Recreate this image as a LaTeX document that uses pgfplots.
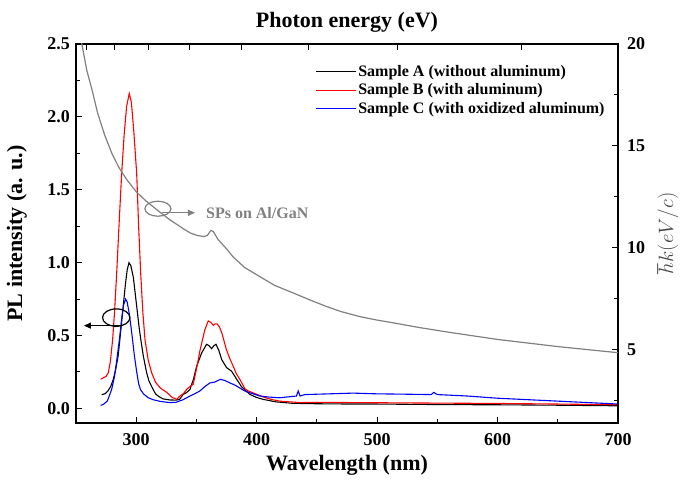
\documentclass[border=0pt]{standalone}
\usepackage{pgfplots}
\pgfplotsset{compat=1.18}
\usepackage{pgfplotstable}
\usepackage{fontspec}
\setmainfont{Liberation Serif}
\usetikzlibrary{arrows.meta}
\definecolor{spgray}{RGB}{128,128,128}
\definecolor{labgray}{RGB}{70,70,70}

\pgfplotstableread{
x y
271.3 0.095
274 0.10
276.5 0.12
278.8 0.15
281 0.20
283 0.27
285 0.36
287 0.52
289.2 0.70
291 0.85
292.5 0.95
294 1.00
295.5 0.98
297.6 0.90
299 0.80
300.4 0.70
302.5 0.55
304.2 0.45
305.9 0.36
308.5 0.25
310.5 0.19
312.8 0.15
316 0.10
319 0.08
322.5 0.065
328 0.058
333 0.057
336 0.062
339 0.096
342 0.11
344.6 0.13
347.5 0.20
350.2 0.29
354.3 0.38
358.4 0.44
360.5 0.43
362.6 0.41
364.5 0.43
366.2 0.44
368.5 0.40
371 0.335
375 0.28
379.2 0.255
383.4 0.20
387.5 0.148
394.4 0.096
400 0.075
405.4 0.062
416 0.045
430 0.035
450 0.032
480 0.03
500 0.03
530 0.028
560 0.026
600 0.025
650 0.022
700 0.018
}\sampleA

\pgfplotstableread{
x y
270.5 0.20
272.7 0.21
275 0.22
276.8 0.245
278.5 0.32
280.4 0.47
282 0.66
283.8 0.93
285.5 1.22
287.9 1.61
290 1.88
292 2.07
294.2 2.16
296 2.10
298 1.90
300.4 1.61
302 1.25
303.7 0.93
305.5 0.66
307.3 0.47
310 0.33
312.8 0.245
316 0.18
320 0.14
325.3 0.11
330 0.075
333.6 0.062
336.3 0.085
339 0.10
341.9 0.13
344.5 0.15
347.3 0.165
350 0.27
353 0.40
355 0.47
357 0.54
359.8 0.60
362 0.59
364 0.57
365.5 0.58
367.2 0.58
369 0.56
371 0.52
373 0.46
375 0.40
377.8 0.34
380.5 0.29
383 0.24
386 0.20
390.2 0.135
393 0.12
397 0.107
405 0.08
412 0.062
419 0.05
436 0.04
450 0.042
480 0.04
520 0.038
560 0.036
600 0.034
650 0.03
700 0.025
}\sampleB

\pgfplotstableread{
x y
270.5 0.02
273 0.03
276 0.05
279.6 0.13
282 0.22
284 0.34
286 0.47
288 0.62
289.5 0.71
291.2 0.75
292.5 0.73
294 0.66
295.5 0.57
297 0.47
298.5 0.36
300.4 0.25
302 0.17
303.5 0.13
306 0.10
310 0.073
314 0.06
320 0.048
328 0.04
333 0.042
339 0.06
344.6 0.085
348.5 0.10
352.9 0.12
357 0.15
361.2 0.175
365 0.18
370 0.20
374 0.19
377.8 0.175
382 0.16
386 0.14
390 0.12
394.4 0.107
402.7 0.085
410 0.078
419 0.073
427 0.08
433 0.085
434.5 0.12
436 0.085
440 0.095
460 0.10
480 0.105
500 0.10
520 0.098
545 0.095
547 0.11
550 0.095
575 0.085
600 0.07
625 0.06
650 0.05
675 0.04
700 0.03
}\sampleC

\pgfplotstableread{
x y
250 21.6
255 19.95
259 18.7
263.3 17.75
268 16.6
274 15.5
280 14.6
286 13.9
292.3 13.33
300 12.75
308 12.3
317.2 11.86
328 11.37
340 10.9
345 10.72
351 10.6
356 10.55
359 10.6
362 10.85
364 10.8
368 10.4
375 9.95
380.3 9.56
390 9.03
402.7 8.58
415 8.15
430 7.79
445 7.42
458.3 7.11
470 6.87
485.7 6.62
500 6.45
513 6.32
535.5 6.08
560 5.85
600 5.5
650 5.15
700 4.85
}\spdata

\begin{document}
\begin{tikzpicture}
\useasboundingbox (-76pt,-63pt) rectangle (609pt,423pt);
\begin{axis}[
  scale only axis, width=542pt, height=379pt,
  xmin=250, xmax=700, ymin=-0.1, ymax=2.5,
  xtick={300,400,...,700}, minor xtick={350,450,550,650},
  ytick={0,0.5,...,2.5}, minor ytick={0.25,0.75,...,2.25},
  xtick pos=bottom, ytick pos=left, tick align=inside,
  major tick length=6pt, minor tick length=4pt,
  every tick/.style={black, line width=1pt},
  axis line style={line width=1.2pt},
  /pgf/number format/assume math mode=true,
  ticklabel style={font=\bfseries\fontsize{18}{18}\selectfont},
  yticklabel style={/pgf/number format/.cd, fixed, fixed zerofill, precision=1, /tikz/.cd, anchor=east, inner sep=0pt, xshift=-6pt},
  xticklabel style={anchor=north, inner sep=0pt, yshift=-10pt},
  xlabel={Wavelength (nm)}, ylabel={PL intensity (a. u.)},
  label style={font=\bfseries\fontsize{22}{22}\selectfont},
  xlabel style={at={(axis description cs:0.5,-0.0844)}, anchor=north, inner sep=0pt},
  ylabel style={at={(axis description cs:-0.0904,0.5)}, anchor=south, inner sep=0pt},
  legend style={at={(axis description cs:0.441,0.947)}, anchor=north west, draw=none, fill=none,
    font=\bfseries\fontsize{16}{16}\selectfont, inner sep=0pt, row sep=4pt, column sep=1pt,
    nodes={inner sep=1pt}},
  legend cell align=left,
  legend image code/.code={\draw[#1] (0pt,0pt) -- (40pt,0pt);},
]
\addplot[black, line width=1.1pt] table {\sampleA};
\addlegendentry{Sample A (without aluminum)}
\addplot[red, line width=1.1pt] table {\sampleB};
\addlegendentry{Sample B (with aluminum)}
\addplot[blue, line width=1.1pt] table {\sampleC};
\addlegendentry{Sample C (with oxidized aluminum)}
\draw[spgray, line width=1.2pt] (axis cs:318,1.37) ellipse [x radius=13pt, y radius=7.5pt];
\draw[spgray, line width=1.2pt, -{Triangle[length=7pt,width=6pt]}] (axis cs:321.4,1.342) -- (axis cs:348.8,1.342);
\node[spgray, anchor=west, inner sep=0pt, font=\bfseries\fontsize{16}{16}\selectfont] at (axis cs:357.9,1.342) {SPs on Al/GaN};
\draw[black, line width=1.2pt] (axis cs:283.4,0.623) ellipse [x radius=13.7pt, y radius=8.7pt];
\draw[black, line width=1.2pt, -{Triangle[length=7pt,width=6pt]}] (axis cs:289.3,0.568) -- (axis cs:256.6,0.568);
\end{axis}
\begin{axis}[
  scale only axis, width=542pt, height=379pt,
  xmin=250, xmax=700, ymin=1.4, ymax=20,
  xtick pos=top, ytick pos=right, yticklabel pos=right, tick align=inside,
  xtick={258.33,281.82,310,344.44,387.5,442.86,516.67,620},
  xticklabels={,,,,,,,,},
  ytick={5,10,15,20}, minor ytick={2.5,7.5,12.5,17.5},
  major tick length=6pt, minor tick length=4pt,
  every tick/.style={black, line width=1pt},
  axis line style={line width=1.2pt},
  /pgf/number format/assume math mode=true,
  ticklabel style={font=\bfseries\fontsize{18}{18}\selectfont},
  yticklabel style={anchor=west, inner sep=0pt, xshift=9pt},
  xlabel={Photon energy (eV)},
  xlabel style={font=\bfseries\fontsize{22}{22}\selectfont, at={(axis description cs:0.5,1.029)}, anchor=south, inner sep=0pt},
  ylabel={$\hbar k(eV/c)$},
  ylabel style={font=\fontsize{21}{21}\selectfont, text=labgray, at={(axis description cs:1.072,0.5)}, anchor=north, inner sep=0pt},
]
\addplot[spgray, line width=1.2pt] table {\spdata};
\end{axis}
\end{tikzpicture}
\end{document}
